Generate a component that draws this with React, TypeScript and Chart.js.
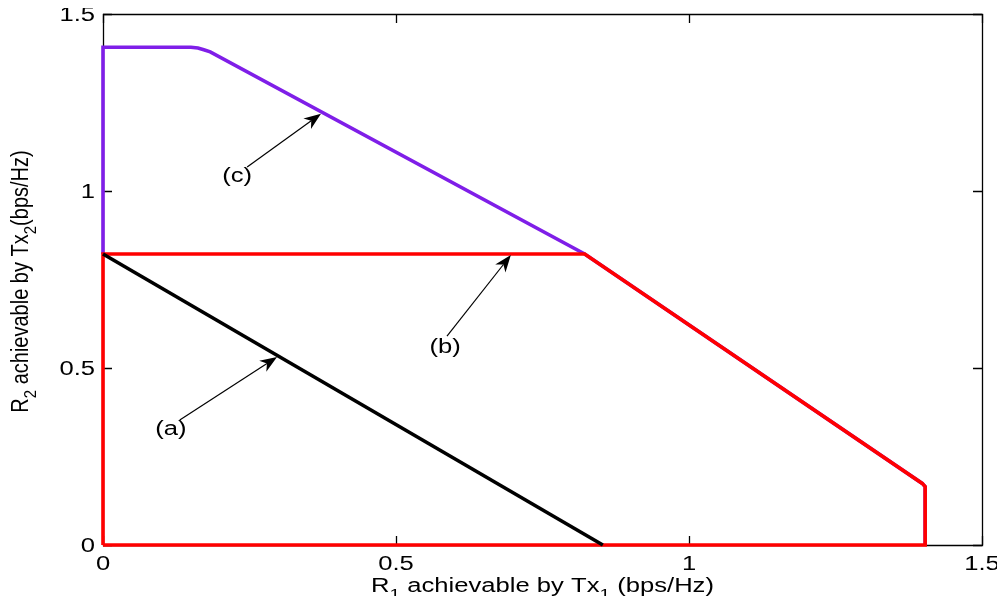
import React, { useEffect, useRef } from "react";
import { Chart, registerables } from "chart.js";

Chart.register(...registerables);

// ---- axis ticks ----
const X_TICKS = [0, 0.5, 1, 1.5];
const Y_TICKS = [0, 0.5, 1, 1.5];
const X_TICK_LABELS = ["0", "0.5", "1", "1.5"];
const Y_TICK_LABELS = ["0", "0.5", "1", "1.5"];

// ---- axis titles (normal, subscript, normal, subscript, normal) ----
const X_TITLE_PARTS = ["R", "1", " achievable by Tx", "1", " (bps/Hz)"];
const Y_TITLE_PARTS = ["R", "2", " achievable by Tx", "2", "(bps/Hz)"];

// ---- curve (a): black ----
const CURVE_A_X = [0, 0.853];
const CURVE_A_Y = [0.822, 0];

// ---- curve (b): red ----
const CURVE_B_X = [0, 0, 0.822, 1.398, 1.403, 1.403, 0];
const CURVE_B_Y = [0, 0.822, 0.822, 0.174, 0.165, 0, 0];

// ---- curve (c): purple ----
const CURVE_C_X = [0, 0, 0.15, 0.162, 0.172, 0.183, 0.822, 1.398, 1.403, 1.403];
const CURVE_C_Y = [0.822, 1.406, 1.406, 1.404, 1.399, 1.393, 0.822, 0.174, 0.165, 0];

// ---- annotations ----
const ANNOT_LABELS = ["(a)", "(b)", "(c)"];
const ANNOT_TEXT_X = [0.116, 0.584, 0.229];
const ANNOT_TEXT_Y = [0.325, 0.559, 1.042];
const ARROW_TAIL_X = [0.131, 0.587, 0.246];
const ARROW_TAIL_Y = [0.353, 0.59, 1.068];
const ARROW_HEAD_X = [0.297, 0.696, 0.372];
const ARROW_HEAD_Y = [0.531, 0.819, 1.218];

const FONT_FAMILY = "'Liberation Sans', Arial, Helvetica, sans-serif";
const FONT_SIZE = 20;
const SUB_SIZE = 15;
const STRETCH = 1.28;
const TICK_LEN = 9;

function toPoints(xs: number[], ys: number[]) {
  return xs.map((x, i) => ({ x, y: ys[i] }));
}

function drawRich(
  ctx: CanvasRenderingContext2D,
  parts: string[],
  size: number,
  subSize: number,
  subOffset: number
) {
  const widths: number[] = [];
  parts.forEach((p, i) => {
    ctx.font = `${i % 2 === 1 ? subSize : size}px ${FONT_FAMILY}`;
    widths.push(ctx.measureText(p).width);
  });
  const total = widths.reduce((a, b) => a + b, 0);
  let cur = -total / 2;
  ctx.textAlign = "left";
  ctx.textBaseline = "alphabetic";
  parts.forEach((p, i) => {
    ctx.font = `${i % 2 === 1 ? subSize : size}px ${FONT_FAMILY}`;
    ctx.fillText(p, cur, i % 2 === 1 ? subOffset : 0);
    cur += widths[i];
  });
}

function drawArrow(
  ctx: CanvasRenderingContext2D,
  x0: number,
  y0: number,
  x1: number,
  y1: number
) {
  const ang = Math.atan2(y1 - y0, x1 - x0);
  const len = 17;
  const half = 6.5;
  const notch = 12;
  const ux = Math.cos(ang);
  const uy = Math.sin(ang);
  const bx = x1 - ux * len;
  const by = y1 - uy * len;
  const nx = x1 - ux * notch;
  const ny = y1 - uy * notch;
  ctx.strokeStyle = "#000";
  ctx.lineWidth = 1.2;
  ctx.beginPath();
  ctx.moveTo(x0, y0);
  ctx.lineTo(nx, ny);
  ctx.stroke();
  ctx.fillStyle = "#000";
  ctx.beginPath();
  ctx.moveTo(x1, y1);
  ctx.lineTo(bx - uy * half, by + ux * half);
  ctx.lineTo(nx, ny);
  ctx.lineTo(bx + uy * half, by - ux * half);
  ctx.closePath();
  ctx.fill();
}

const framePlugin = {
  id: "matlabFrame",
  beforeDatasetsDraw(chart: any) {
    const { ctx, chartArea } = chart;
    const { left, right, top, bottom } = chartArea;
    const xs = chart.scales.x;
    const ys = chart.scales.y;
    ctx.save();
    ctx.strokeStyle = "#000";
    ctx.lineWidth = 1.3;
    ctx.beginPath();
    ctx.rect(Math.round(left) + 0.5, Math.round(top) + 0.5, Math.round(right - left), Math.round(bottom - top));
    ctx.stroke();
    ctx.beginPath();
    X_TICKS.forEach((v) => {
      const px = Math.round(xs.getPixelForValue(v)) + 0.5;
      ctx.moveTo(px, bottom);
      ctx.lineTo(px, bottom - TICK_LEN);
      ctx.moveTo(px, top);
      ctx.lineTo(px, top + TICK_LEN);
    });
    Y_TICKS.forEach((v) => {
      const py = Math.round(ys.getPixelForValue(v)) + 0.5;
      ctx.moveTo(left, py);
      ctx.lineTo(left + TICK_LEN, py);
      ctx.moveTo(right, py);
      ctx.lineTo(right - TICK_LEN, py);
    });
    ctx.stroke();
    ctx.restore();
  },
  afterDraw(chart: any) {
    const { ctx, chartArea } = chart;
    const { left, right, top, bottom } = chartArea;
    const xs = chart.scales.x;
    const ys = chart.scales.y;
    ctx.save();
    ctx.fillStyle = "#000";
    ctx.font = `${FONT_SIZE}px ${FONT_FAMILY}`;
    ctx.textBaseline = "alphabetic";
    X_TICKS.forEach((v, i) => {
      const px = xs.getPixelForValue(v);
      ctx.save();
      ctx.translate(px, bottom + 25);
      ctx.scale(STRETCH, 1);
      ctx.textAlign = "center";
      ctx.fillText(X_TICK_LABELS[i], 0, 0);
      ctx.restore();
    });
    Y_TICKS.forEach((v, i) => {
      const py = ys.getPixelForValue(v);
      ctx.save();
      ctx.translate(left - 8, py + 7);
      ctx.scale(STRETCH, 1);
      ctx.textAlign = "right";
      ctx.fillText(Y_TICK_LABELS[i], 0, 0);
      ctx.restore();
    });
    ctx.save();
    ctx.translate((left + right) / 2, bottom + 47);
    ctx.scale(STRETCH, 1);
    drawRich(ctx, X_TITLE_PARTS, FONT_SIZE, SUB_SIZE, 7);
    ctx.restore();
    ctx.save();
    ctx.translate(20, (top + bottom) / 2 + 2);
    ctx.rotate(-Math.PI / 2);
    ctx.scale(1, 1.15);
    drawRich(ctx, Y_TITLE_PARTS, FONT_SIZE, SUB_SIZE, 7);
    ctx.restore();
    ANNOT_LABELS.forEach((lab, i) => {
      const tx = xs.getPixelForValue(ARROW_TAIL_X[i]);
      const ty = ys.getPixelForValue(ARROW_TAIL_Y[i]);
      const hx = xs.getPixelForValue(ARROW_HEAD_X[i]);
      const hy = ys.getPixelForValue(ARROW_HEAD_Y[i]);
      drawArrow(ctx, tx, ty, hx, hy);
      const lx = xs.getPixelForValue(ANNOT_TEXT_X[i]);
      const ly = ys.getPixelForValue(ANNOT_TEXT_Y[i]);
      ctx.save();
      ctx.translate(lx, ly);
      ctx.scale(STRETCH, 1);
      ctx.font = `${FONT_SIZE}px ${FONT_FAMILY}`;
      ctx.textAlign = "center";
      ctx.textBaseline = "middle";
      ctx.fillText(lab, 0, 0);
      ctx.restore();
    });
    ctx.restore();
  },
};

export default function App() {
  const canvasRef = useRef<HTMLCanvasElement | null>(null);

  useEffect(() => {
    if (!canvasRef.current) return;
    const common = {
      showLine: true,
      pointRadius: 0,
      pointHoverRadius: 0,
      borderWidth: 3.6,
      fill: false,
      tension: 0,
      clip: false as any,
    };
    const chart = new Chart(canvasRef.current, {
      type: "scatter",
      data: {
        datasets: [
          {
            ...common,
            label: "(a)",
            data: toPoints(CURVE_A_X, CURVE_A_Y),
            borderColor: "#000000",
            order: 0,
          },
          {
            ...common,
            label: "(b)",
            data: toPoints(CURVE_B_X, CURVE_B_Y),
            borderColor: "#ff0000",
            order: 1,
          },
          {
            ...common,
            label: "(c)",
            data: toPoints(CURVE_C_X, CURVE_C_Y),
            borderColor: "#7f1ee8",
            order: 2,
          },
        ],
      },
      options: {
        animation: false,
        responsive: true,
        maintainAspectRatio: false,
        layout: { padding: { left: 0, right: 15, top: 6, bottom: 0 } },
        plugins: {
          legend: { display: false },
          tooltip: { enabled: false },
        },
        scales: {
          x: {
            type: "linear",
            min: 0,
            max: 1.5,
            afterBuildTicks: (s: any) => {
              s.ticks = X_TICKS.map((value) => ({ value }));
            },
            afterFit: (s: any) => {
              s.height = 51;
            },
            ticks: { display: false },
            grid: { display: false },
            border: { display: false },
          },
          y: {
            type: "linear",
            min: 0,
            max: 1.5,
            afterBuildTicks: (s: any) => {
              s.ticks = Y_TICKS.map((value) => ({ value }));
            },
            afterFit: (s: any) => {
              s.width = 95;
            },
            ticks: { display: false },
            grid: { display: false },
            border: { display: false },
          },
        },
      },
      plugins: [framePlugin],
    });
    return () => chart.destroy();
  }, []);

  return (
    <div style={{ position: "relative", width: 989, height: 588 }}>
      <canvas ref={canvasRef} />
    </div>
  );
}
